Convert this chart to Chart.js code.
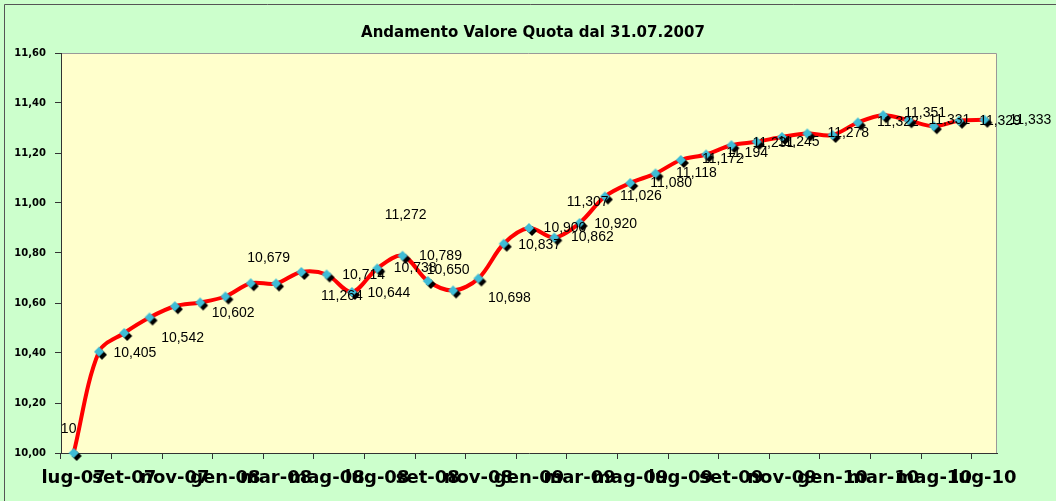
<!DOCTYPE html>
<html>
<head>
<meta charset="utf-8">
<script src="https://cdn.jsdelivr.net/npm/chart.js@4/dist/chart.umd.min.js"></script>
<style>
  html, body { margin: 0; padding: 0; background: #CCFFCC; }
  canvas { display: block; }
</style>
</head>
<body>
<canvas id="c" width="1056" height="501"></canvas>
<script>
// ---- data ----
const categories = [
  'lug-07','ago-07','set-07','ott-07','nov-07','dic-07',
  'gen-08','feb-08','mar-08','apr-08','mag-08','giu-08',
  'lug-08','ago-08','set-08','ott-08','nov-08','dic-08',
  'gen-09','feb-09','mar-09','apr-09','mag-09','giu-09',
  'lug-09','ago-09','set-09','ott-09','nov-09','dic-09',
  'gen-10','feb-10','mar-10','apr-10','mag-10','giu-10',
  'lug-10'
];
const quotaValues = [
  10.000, 10.405, 10.480, 10.542, 10.587, 10.602,
  10.626, 10.679, 10.678, 10.724, 10.714, 10.644,
  10.738, 10.789, 10.688, 10.650, 10.698, 10.837,
  10.900, 10.862, 10.920, 11.026, 11.080, 11.118,
  11.172, 11.194, 11.231, 11.245, 11.264, 11.278,
  11.272, 11.322, 11.351, 11.331, 11.307, 11.329,
  11.333
];
const pointLabels = [
  '10', '10,405', null, '10,542', null, '10,602',
  null, '10,679', null, null, '10,714', '10,644',
  '10,738', '10,789', null, '10,650', '10,698', '10,837',
  '10,900', '10,862', '10,920', '11,026', '11,080', '11,118',
  '11,172', '11,194', '11,231', '11,245', '11,264', '11,278',
  '11,272', '11,322', '11,351', '11,331', '11,307', '11,329',
  '11,333'
];
const yTickMin = 10.0, yTickMax = 11.6, yTickStep = 0.2;
const chartTitle = 'Andamento Valore Quota dal 31.07.2007';

// ---- layout of data labels (pixel offsets from their point; Excel-dragged labels) ----
const labelOffsets = [
  [-5,-24], [36,1], null, [33,21], null, [33,11],
  null, [18,-25], null, null, [37,1], [37,1],
  [38,0], [38,0], null, [-5,-20], [31,20], [36,1],
  [36,0], [38,0], [36,1], [36,0], [41,0], [41,0],
  [42,-1], [41,-1], [42,-2], [42,0], [-440,159], [41,0],
  [-427,80], [40,0], [42,-2], [41,0], [-346,76], [41,0],
  [46,0]
];

// ---- marker image: turquoise diamond with black shadow ----
function makeMarker() {
  const c = document.createElement('canvas');
  c.width = 22; c.height = 22;
  const g = c.getContext('2d');
  const d = (cx, cy, r, col) => {
    g.beginPath();
    g.moveTo(cx, cy - r); g.lineTo(cx + r, cy); g.lineTo(cx, cy + r); g.lineTo(cx - r, cy);
    g.closePath(); g.fillStyle = col; g.fill();
  };
  d(14, 14, 5, '#000000');
  d(11, 11, 5, '#3EBCD6');
  return c;
}
const marker = makeMarker();

const bgPlugin = {
  id: 'bg',
  beforeDraw(chart) {
    const {ctx, chartArea: a, width, height} = chart;
    ctx.save();
    ctx.fillStyle = '#CCFFCC';
    ctx.fillRect(0, 0, width, height);
    ctx.strokeStyle = '#555555';
    ctx.lineWidth = 1;
    ctx.beginPath();
    ctx.moveTo(4.5, height); ctx.lineTo(4.5, 4.5); ctx.lineTo(width, 4.5);
    ctx.stroke();
    ctx.fillStyle = '#FFFFCC';
    ctx.fillRect(a.left, a.top, a.right - a.left, a.bottom - a.top);
    ctx.strokeStyle = '#999999';
    ctx.beginPath();
    ctx.moveTo(a.left, a.top + 0.5); ctx.lineTo(a.right - 0.5, a.top + 0.5); ctx.lineTo(a.right - 0.5, a.bottom);
    ctx.stroke();
    ctx.restore();
  },
  afterDatasetsDraw(chart) {
    const {ctx} = chart;
    const meta = chart.getDatasetMeta(0);
    ctx.save();
    ctx.font = '14px "Liberation Sans", Arial, sans-serif';
    ctx.fillStyle = '#000000';
    ctx.textAlign = 'center';
    ctx.textBaseline = 'middle';
    pointLabels.forEach((t, i) => {
      if (!t) return;
      const p = meta.data[i];
      const o = labelOffsets[i] || [40, 0];
      ctx.fillText(t, p.x + o[0], p.y + o[1]);
    });
    ctx.restore();
  },
  afterDraw(chart) {
    const {ctx, chartArea: a} = chart;
    ctx.save();
    ctx.font = 'bold 15px "DejaVu Sans", sans-serif';
    ctx.fillStyle = '#000000';
    ctx.textAlign = 'center';
    ctx.textBaseline = 'middle';
    ctx.fillText(chartTitle, (a.left + a.right) / 2 + 4, 33);
    ctx.restore();
  }
};

new Chart(document.getElementById('c'), {
  type: 'line',
  data: {
    labels: categories,
    datasets: [{
      data: quotaValues,
      borderColor: '#FF0000',
      borderWidth: 4,
      tension: 0.33,
      pointStyle: marker,
      pointRadius: 5,
      clip: false,
      fill: false
    }]
  },
  options: {
    responsive: false,
    animation: false,
    events: [],
    layout: { padding: { top: 53, right: 59, bottom: 0, left: 0 } },
    plugins: { legend: { display: false }, tooltip: { enabled: false }, title: { display: false } },
    scales: {
      x: {
        type: 'category',
        offset: true,
        grid: {
          offset: true,
          drawOnChartArea: false,
          drawTicks: true,
          tickLength: 6,
          color: (ctx) => (ctx.index % 2 === 0 ? '#333333' : 'rgba(0,0,0,0)')
        },
        border: { color: '#333333', width: 1 },
        ticks: {
          autoSkip: false,
          maxRotation: 0,
          minRotation: 0,
          padding: 9,
          color: '#000000',
          font: { family: '"DejaVu Sans", sans-serif', weight: 'bold', size: 18 },
          callback: function (v, i) { return i % 2 === 0 ? categories[i] : ''; }
        },
        afterFit(s) { s.height = 48; s.paddingLeft = 0; s.paddingRight = 0; }
      },
      y: {
        min: yTickMin,
        max: yTickMax,
        grid: { drawOnChartArea: false, tickLength: 6, color: '#333333' },
        border: { color: '#333333', width: 1 },
        ticks: {
          stepSize: yTickStep,
          padding: 9,
          color: '#000000',
          font: { family: '"DejaVu Sans", sans-serif', weight: 'bold', size: 10 },
          callback: (v) => Number(v).toFixed(2).replace('.', ',')
        },
        afterFit(s) { s.width = 61; s.paddingTop = 0; s.paddingBottom = 0; }
      }
    }
  },
  plugins: [bgPlugin]
});
</script>
</body>
</html>
